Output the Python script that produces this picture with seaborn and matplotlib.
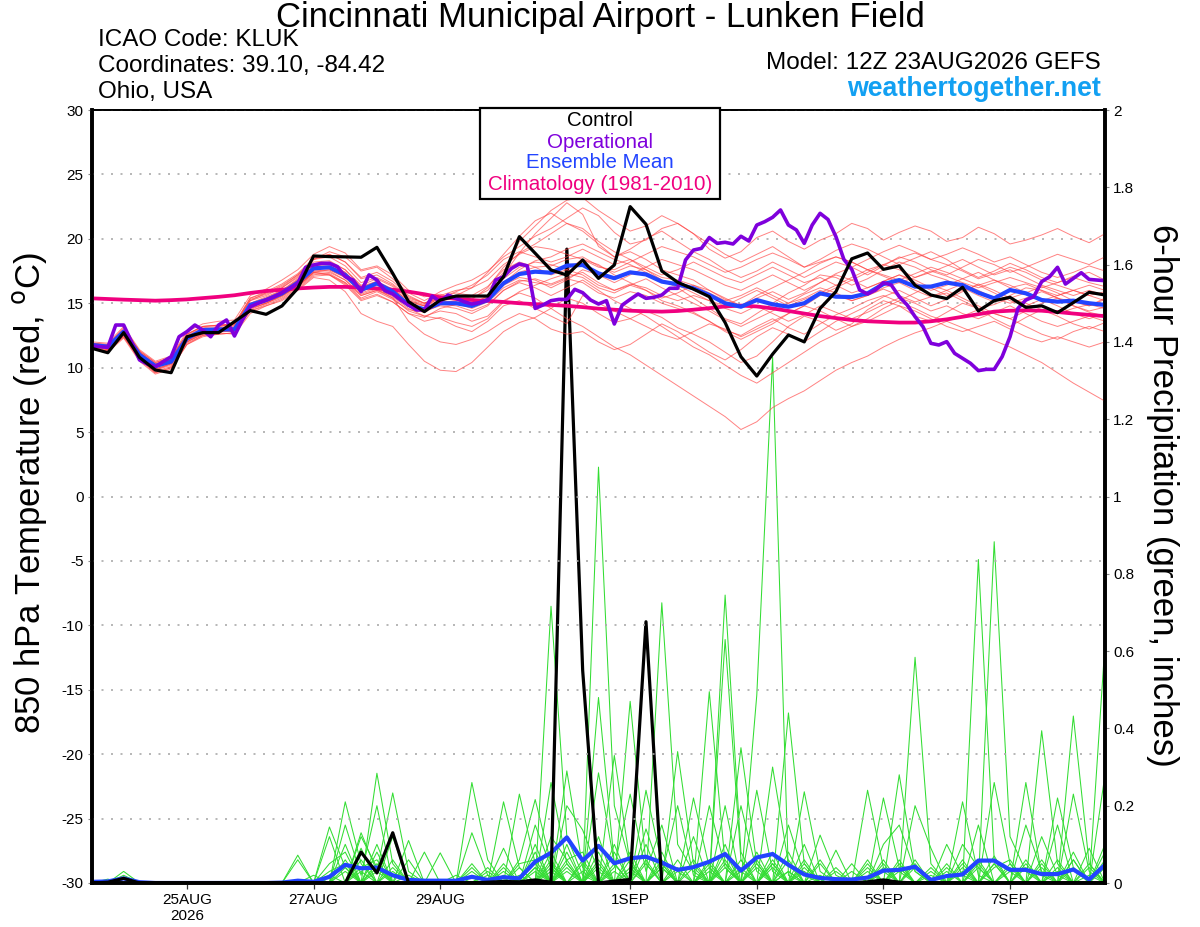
import numpy as np
import pandas as pd
import matplotlib
matplotlib.use("Agg")
import matplotlib.pyplot as plt
import seaborn as sns
from matplotlib.patches import Rectangle
from matplotlib.ticker import FuncFormatter

sns.set_theme(style="white")
plt.rcParams['font.family'] = ['Liberation Sans', 'DejaVu Sans']
plt.rcParams['axes.unicode_minus'] = False
plt.rcParams['text.color'] = 'black'
plt.rcParams['xtick.color'] = 'black'
plt.rcParams['ytick.color'] = 'black'

# ---------------- data ----------------
start = "2026-08-23 12:00"
times = pd.date_range(start, periods=65, freq="6h")       # ensemble / control (6-hourly)
times_op = pd.date_range(start, periods=129, freq="3h")   # operational (3-hourly)

tick_dates = ["2026-08-25", "2026-08-27", "2026-08-29", "2026-09-01",
              "2026-09-03", "2026-09-05", "2026-09-07"]
tick_labels = ["25AUG\n2026", "27AUG", "29AUG", "1SEP", "3SEP", "5SEP", "7SEP"]

control_temp = [11.5, 11.16, 12.72, 10.8, 9.82, 9.61, 12.4, 12.72, 12.72, 13.57,
                14.43, 14.14, 14.79, 16.16, 18.67, 18.62, 18.6, 18.57, 19.34, 17.32,
                15.12, 14.35, 15.25, 15.56, 15.56, 15.56, 17.06, 20.17, 18.88, 17.58,
                17.19, 18.36, 16.93, 17.97, 22.5, 21.13, 17.5, 16.63, 16.1, 15.51,
                13.5, 10.85, 9.35, 11.05, 12.54, 12.0, 14.6, 15.9, 18.45, 18.9,
                17.63, 17.9, 16.4, 15.64, 15.36, 16.24, 14.4, 15.2, 15.46, 14.68,
                14.8, 14.27, 15.05, 15.85, 15.64]

mean_temp = [11.76, 11.63, 12.8, 11.0, 10.13, 10.47, 12.28, 12.92, 12.97, 12.97,
             14.87, 15.25, 15.77, 16.6, 17.71, 17.79, 17.19, 16.03, 16.55, 15.9,
             14.87, 14.53, 15.0, 15.0, 14.79, 15.25, 16.55, 17.27, 17.45, 17.37,
             17.92, 17.97, 17.32, 16.94, 17.4, 17.24, 16.68, 16.47, 16.16, 15.64,
             15.0, 14.73, 15.25, 14.92, 14.73, 15.0, 15.77, 15.51, 15.48, 15.77,
             16.49, 16.8, 16.29, 16.29, 16.6, 16.41, 15.82, 15.38, 16.03, 15.77,
             15.25, 15.12, 15.2, 15.0, 14.87]

oper_temp = [11.68, 11.63, 11.58, 13.31, 13.31, 12.0, 10.6, 10.28, 10.07, 10.47,
             10.85, 12.4, 12.8, 13.31, 12.92, 12.4, 13.31, 13.7, 12.46, 13.7,
             14.73, 15.0, 15.25, 15.5, 15.82, 16.15, 16.55, 17.79, 17.97, 18.1,
             18.1, 17.84, 17.06, 16.8, 15.9, 17.2, 16.8, 15.98, 15.72, 15.25,
             14.86, 14.48, 14.48, 15.55, 15.12, 15.64, 15.38, 15.12, 14.94, 15.05,
             15.25, 16.8, 17.06, 17.7, 18.05, 17.9, 14.6, 14.87, 15.2, 15.3,
             15.3, 16.08, 15.82, 15.25, 14.94, 15.2, 13.39, 14.86, 15.3, 15.72,
             15.38, 15.46, 15.64, 16.16, 16.16, 18.36, 19.13, 19.26, 20.1, 19.65,
             19.73, 19.6, 20.2, 19.83, 21.07, 21.33, 21.67, 22.24, 21.07, 20.69,
             19.65, 21.07, 21.98, 21.5, 20.17, 18.41, 17.63, 16.03, 15.72, 16.03,
             16.6, 16.41, 15.51, 14.87, 13.96, 13.18, 11.89, 11.76, 12.02, 11.11,
             10.72, 10.34, 9.77, 9.87, 9.87, 10.85, 12.4, 14.6, 15.25, 15.51,
             16.68, 17.06, 17.79, 16.49, 16.93, 17.37, 16.85, 16.8, 16.75]

clim_temp = [15.38, 15.33, 15.28, 15.24, 15.2, 15.24, 15.3, 15.4, 15.5, 15.62,
             15.8, 15.95, 16.05, 16.15, 16.22, 16.27, 16.27, 16.22, 16.15, 16.05,
             15.9, 15.7, 15.46, 15.35, 15.25, 15.18, 15.1, 15.0, 14.93, 14.87,
             14.8, 14.7, 14.58, 14.5, 14.42, 14.38, 14.35, 14.4, 14.5, 14.62,
             14.75, 14.82, 14.75, 14.6, 14.4, 14.2, 14.0, 13.85, 13.7, 13.6,
             13.55, 13.5, 13.5, 13.6, 13.75, 13.95, 14.15, 14.35, 14.42, 14.45,
             14.42, 14.32, 14.2, 14.1, 14.0]

mean_precip = [0.003, 0.004, 0.012, 0.002, 0, 0, 0, 0, 0, 0,
               0, 0, 0.001, 0.006, 0.003, 0.016, 0.047, 0.038, 0.04, 0.02,
               0.008, 0.006, 0.006, 0.006, 0.016, 0.008, 0.015, 0.012, 0.055, 0.078,
               0.118, 0.058, 0.096, 0.051, 0.064, 0.068, 0.053, 0.034, 0.041, 0.055,
               0.075, 0.032, 0.066, 0.075, 0.047, 0.022, 0.013, 0.010, 0.009, 0.014,
               0.032, 0.034, 0.042, 0.008, 0.018, 0.022, 0.058, 0.058, 0.034, 0.034,
               0.023, 0.023, 0.035, 0.009, 0.047]

control_precip = [0, 0.002, 0.012, 0, 0, 0, 0, 0, 0, 0,
                  0, 0, 0, 0, 0, 0, 0, 0.08, 0.026, 0.13,
                  0, 0, 0, 0, 0, 0.002, 0.004, 0.003, 0.008, 0.002,
                  1.64, 0.55, 0, 0.005, 0.009, 0.676, 0, 0.002, 0.001, 0,
                  0, 0, 0, 0, 0, 0, 0, 0, 0, 0.003,
                  0.008, 0.002, 0, 0, 0, 0, 0, 0, 0, 0,
                  0, 0, 0, 0, 0]

# 20 perturbed members, 850 hPa temperature
temp_members = [
    [11.9,11.5,12.6,10.8,9.8,10.2,12.0,12.7,13.2,13.4,15.2,15.8,16.4,17.2,18.4,19.0,18.6,17.5,17.8,16.9,
     15.8,15.2,15.9,16.4,16.8,17.5,18.6,19.4,20.2,20.8,21.6,22.4,21.8,20.5,19.6,19.9,20.8,21.2,20.4,19.2,
     18.5,19.0,20.1,20.6,19.8,19.2,19.9,20.4,21.2,20.8,19.9,20.5,21.0,20.6,19.8,20.1,20.9,20.4,19.6,19.9,
     20.3,20.8,20.2,19.7,20.4],
    [11.6,11.2,12.3,10.5,9.5,9.9,11.8,12.5,12.7,12.6,14.2,14.8,15.2,16.0,17.0,16.8,15.9,14.2,13.6,13.2,
     11.8,10.5,9.8,9.7,10.4,11.6,12.8,13.5,13.9,14.6,15.4,15.0,14.2,13.5,13.8,14.4,13.9,13.1,12.6,12.0,
     11.2,10.4,10.9,12.0,13.2,14.0,13.6,12.9,13.4,14.5,15.2,14.8,14.0,13.6,14.3,15.0,14.6,13.8,13.2,13.9,
     14.5,14.0,13.4,13.0,13.5],
    [11.7,11.4,12.5,10.6,9.7,10.1,12.0,12.6,12.8,12.9,14.5,15.0,15.6,16.3,17.4,17.6,17.0,15.8,16.2,15.5,
     14.6,14.0,14.4,14.2,13.6,14.0,15.2,15.8,15.4,14.6,13.8,13.2,12.4,11.6,11.0,10.2,9.4,8.6,7.8,7.0,
     6.2,5.2,5.8,6.9,7.6,8.2,9.0,9.8,10.4,10.9,11.6,12.2,12.7,13.1,13.6,14.0,14.5,14.2,13.8,14.4,
     15.0,15.4,15.1,14.8,15.3],
    [11.8,11.6,12.9,11.2,10.2,10.4,12.2,12.8,12.9,13.1,14.8,15.1,15.6,16.4,17.4,17.3,16.6,15.4,15.9,15.3,
     14.5,14.3,14.9,14.8,14.4,14.9,16.0,16.7,16.9,16.5,17.0,17.4,16.6,16.0,16.4,16.0,15.2,14.8,14.3,13.6,
     12.9,12.5,13.2,13.8,13.1,12.6,13.4,14.1,14.6,15.2,15.6,15.1,14.6,14.0,13.6,13.1,12.6,12.1,11.6,11.0,
     10.4,9.6,8.8,8.1,7.4],
    [11.9,11.8,13.0,11.3,10.4,10.8,12.6,13.2,13.3,13.4,15.4,15.9,16.5,17.3,18.5,18.8,18.2,17.0,17.4,16.7,
     15.6,15.0,15.4,15.6,15.4,16.0,17.4,19.8,21.0,22.2,23.0,23.2,22.2,21.4,20.6,21.0,21.8,21.2,20.4,19.6,
     18.8,18.2,18.8,19.4,18.6,17.8,18.4,19.1,19.6,19.2,18.6,18.0,18.5,19.0,18.4,17.6,17.0,17.5,18.1,17.6,
     17.0,16.6,17.1,17.4,16.8],
    [11.5,11.3,12.4,10.7,9.6,10.0,11.9,12.5,12.6,12.7,14.4,14.9,15.4,16.2,17.2,17.4,16.8,15.7,16.1,15.4,
     13.6,12.6,12.0,11.8,12.2,12.8,13.6,14.2,13.8,13.0,12.6,12.8,12.0,11.4,11.8,12.6,13.4,12.8,12.0,11.2,
     10.6,11.4,12.4,13.1,12.6,12.0,12.8,13.6,14.2,14.8,15.5,16.0,15.4,14.8,15.3,15.9,16.5,16.0,15.4,15.8,
     16.3,15.8,15.2,14.8,15.4],
    [12.0,11.9,13.2,11.4,10.5,10.9,12.8,13.4,13.6,13.7,15.6,16.1,16.8,17.6,18.8,19.4,18.9,17.6,17.9,17.2,
     16.0,15.5,15.7,15.3,14.8,15.2,17.2,18.9,20.4,21.6,22.8,21.9,19.4,18.6,19.2,20.0,20.6,19.8,19.0,18.4,
     17.6,17.0,17.5,18.2,17.6,17.0,17.6,18.2,17.8,17.2,17.9,18.6,18.2,17.6,17.2,17.8,18.4,18.0,17.4,17.8,
     18.3,18.8,18.4,18.0,18.6],
    [11.6,11.4,12.6,10.9,9.9,10.3,12.1,12.8,12.9,12.8,14.6,15.0,15.5,16.3,17.3,17.2,16.4,15.2,15.6,15.1,
     14.2,13.9,14.6,14.9,15.3,16.2,17.8,18.9,19.6,20.4,21.2,20.8,19.8,19.0,18.4,17.6,16.8,16.2,15.4,14.6,
     13.8,13.4,14.2,15.0,15.8,16.4,17.2,17.0,16.4,16.9,17.6,18.2,17.8,17.2,16.8,16.2,15.6,15.1,15.6,16.2,
     16.0,15.4,14.8,14.3,14.0],
    [11.8,11.7,12.9,11.1,10.1,10.6,12.4,13.0,13.1,13.2,15.0,15.4,15.9,16.8,17.9,18.2,17.6,16.4,16.9,16.3,
     15.3,14.9,15.5,15.8,15.6,16.3,17.6,18.2,17.8,17.2,17.6,18.4,18.0,17.2,16.6,16.0,15.4,15.8,16.4,16.0,
     15.4,14.8,15.4,15.9,15.3,15.8,16.6,17.3,17.8,18.4,19.0,19.5,19.0,18.4,18.8,19.3,18.8,18.2,18.6,18.0,
     17.4,17.0,17.4,17.9,17.5],
    [11.7,11.5,12.7,10.9,10.0,10.4,12.2,12.8,12.9,13.0,14.7,15.1,15.6,16.4,17.5,17.6,17.0,15.9,16.4,15.8,
     14.8,14.4,14.8,14.6,14.2,14.8,16.0,16.6,16.2,15.6,16.2,16.8,16.0,15.2,14.6,14.0,13.2,12.4,11.6,11.0,
     10.2,9.4,8.8,9.6,10.4,11.2,12.0,12.6,13.2,13.8,14.6,15.2,15.8,16.4,16.0,15.4,14.8,14.2,13.8,13.2,
     12.6,12.2,12.8,13.2,12.8],
    [11.9,11.7,12.8,11.0,10.2,10.7,12.5,13.1,13.2,13.3,15.3,15.7,16.2,17.0,18.2,18.3,17.6,16.3,16.7,16.0,
     15.0,14.6,15.0,15.2,15.0,15.5,16.6,17.4,17.8,17.9,18.4,18.6,17.9,17.4,17.9,17.6,17.0,16.8,16.4,15.8,
     15.2,15.6,16.2,15.6,15.0,15.4,16.0,15.6,15.2,15.6,16.2,16.6,16.0,15.5,15.8,15.2,14.6,14.9,15.4,15.0,
     14.5,14.2,14.6,14.9,14.6],
    [11.6,11.4,12.5,10.8,9.8,10.3,12.1,12.7,12.8,12.8,14.6,15.0,15.6,16.4,17.6,17.8,17.2,16.0,16.6,16.1,
     15.2,14.8,15.4,15.6,16.2,17.4,18.8,20.2,21.4,22.0,21.2,20.6,19.6,18.6,19.0,18.4,17.6,17.2,16.8,16.0,
     15.3,14.8,15.6,16.2,16.8,17.4,18.1,18.6,18.2,17.6,18.0,18.5,18.9,18.4,18.0,17.5,16.9,17.3,17.8,17.4,
     16.8,16.4,16.0,15.6,15.9],
    [11.8,11.6,12.7,10.9,10.0,10.4,12.2,12.8,13.0,12.9,14.8,15.2,15.7,16.5,17.5,17.5,16.8,15.6,16.0,15.6,
     14.8,14.6,15.2,15.4,15.0,15.4,16.4,17.0,16.8,16.2,16.8,17.6,17.2,16.6,17.2,17.8,18.4,18.0,17.6,17.0,
     16.4,16.0,16.6,17.2,16.6,16.0,16.6,17.2,16.8,16.2,16.7,17.2,16.6,16.0,16.4,16.9,17.4,16.8,16.2,16.5,
     16.0,15.6,16.0,16.4,16.0],
    [11.7,11.6,12.8,11.1,10.2,10.6,12.4,12.9,13.0,13.1,14.9,15.4,16.0,16.9,18.0,18.1,17.4,16.1,16.6,16.0,
     15.0,14.6,15.1,15.0,14.6,15.1,16.2,16.8,16.6,16.4,16.9,16.6,15.8,15.4,15.9,15.6,15.0,14.6,14.2,13.6,
     12.8,12.2,12.8,13.4,14.2,14.8,15.6,16.2,16.8,17.4,18.0,17.6,17.0,17.4,17.9,18.4,17.8,17.2,17.6,17.0,
     16.4,16.0,15.6,16.0,15.6],
    [11.9,11.7,12.9,11.2,10.3,10.6,12.4,13.0,13.0,13.1,15.0,15.5,16.0,16.8,17.9,18.0,17.4,16.2,16.7,16.1,
     15.2,14.8,15.2,15.1,14.9,15.6,16.9,17.8,18.2,18.0,17.6,17.2,16.4,16.0,16.5,16.2,15.6,15.2,15.6,15.2,
     14.6,14.2,14.8,14.2,13.6,14.1,14.8,14.3,13.8,14.3,14.9,15.4,15.0,14.4,14.8,14.2,13.8,14.3,14.8,14.2,
     13.6,13.2,13.6,14.0,13.6],
    [11.8,11.5,12.6,10.8,9.9,10.3,12.0,12.6,12.8,12.9,14.7,15.2,15.6,16.3,17.4,17.2,16.5,15.3,15.7,15.1,
     14.2,13.6,13.9,13.5,13.2,13.8,15.1,15.9,16.4,16.9,17.3,17.0,16.2,15.8,16.4,16.9,16.2,15.6,15.0,14.4,
     13.7,13.2,13.8,14.4,15.0,15.7,16.2,15.8,15.2,15.6,16.1,15.6,15.1,15.5,16.0,16.5,16.0,15.4,15.0,15.4,
     15.9,15.4,14.8,14.4,14.7],
    [11.7,11.6,12.7,11.0,10.1,10.5,12.3,12.9,13.0,13.0,14.9,15.3,15.9,16.7,17.8,17.9,17.3,16.2,16.6,15.9,
     15.0,14.8,15.4,15.9,16.4,17.2,18.4,19.0,18.6,18.2,18.6,19.2,18.6,18.0,18.4,17.8,17.2,17.6,18.2,17.6,
     17.0,16.6,17.2,17.8,17.2,16.6,17.0,16.4,15.8,16.2,16.7,17.2,16.8,16.2,15.6,16.0,16.4,15.8,15.2,14.8,
     15.3,14.8,14.2,13.8,14.2],
    [11.8,11.7,12.9,11.2,10.3,10.8,12.6,13.2,13.3,13.3,15.2,15.6,16.2,17.1,18.4,18.6,17.9,16.6,17.0,16.4,
     15.4,15.0,15.5,15.4,15.0,15.4,16.6,17.6,18.3,18.6,19.2,19.6,19.0,18.4,18.0,17.4,16.8,16.4,15.8,15.2,
     14.8,15.4,16.0,15.4,14.8,15.3,15.8,16.4,17.0,17.6,17.1,16.6,17.0,17.5,17.1,16.6,16.2,16.6,17.0,16.6,
     16.2,16.6,17.0,16.6,16.3],
    [11.6,11.3,12.4,10.6,9.6,10.0,11.8,12.4,12.6,12.7,14.4,14.8,15.3,16.1,17.1,17.2,16.6,15.6,16.0,15.4,
     14.4,14.0,13.8,13.2,12.8,13.6,14.8,15.2,14.6,14.0,13.4,15.6,15.0,14.4,13.8,13.2,12.6,12.2,12.8,13.4,
     13.0,12.4,13.0,13.6,14.2,14.8,14.4,13.8,13.2,13.6,14.2,14.8,14.4,13.8,13.2,12.8,13.2,13.6,13.0,12.4,
     12.0,12.4,12.0,11.6,12.0],
    [11.9,11.8,13.1,11.3,10.4,10.8,12.6,13.2,13.3,13.4,15.4,15.8,16.3,17.2,18.4,18.8,18.2,16.9,17.2,16.5,
     15.5,15.0,15.6,16.0,16.2,16.8,18.0,18.8,19.4,19.2,18.8,18.4,17.8,17.6,18.2,18.8,19.4,19.0,18.6,18.0,
     17.4,17.8,18.4,18.9,18.4,17.8,18.2,18.6,18.2,17.6,17.2,16.8,17.3,17.8,17.4,16.9,16.4,16.8,16.4,15.8,
     15.2,15.6,16.0,15.6,15.2],
]

# 20 perturbed members, 6-hour precipitation: {time step index: inches}, other steps dry
precip_members = [
    {2: 0.03, 13: 0.072, 16: 0.21, 17: 0.05, 24: 0.04, 29: 0.716, 30: 0.12, 31: 0.02, 36: 0.04, 40: 0.2,
     44: 0.03, 49: 0.05, 52: 0.04, 57: 0.883, 58: 0.12, 59: 0.03, 64: 0.1},
    {2: 0.02, 15: 0.145, 16: 0.04, 18: 0.284, 19: 0.05, 26: 0.09, 28: 0.03, 32: 1.076, 33: 0.2, 34: 0.05,
     39: 0.03, 43: 0.05, 45: 0.1, 51: 0.06, 56: 0.15, 60: 0.394, 61: 0.05},
    {1: 0.01, 13: 0.06, 17: 0.13, 18: 0.03, 19: 0.233, 20: 0.03, 27: 0.06, 28: 0.216, 29: 0.05, 33: 0.33,
     34: 0.05, 40: 0.745, 41: 0.08, 47: 0.085, 50: 0.03, 55: 0.21, 56: 0.02, 62: 0.23, 63: 0.03},
    {2: 0.015, 16: 0.15, 17: 0.02, 18: 0.2, 20: 0.11, 24: 0.13, 25: 0.02, 30: 0.29, 31: 0.04, 36: 0.725,
     37: 0.1, 38: 0.03, 42: 0.24, 43: 0.03, 50: 0.22, 51: 0.04, 57: 0.26, 58: 0.05, 64: 0.62},
    {15: 0.12, 17: 0.09, 19: 0.12, 21: 0.08, 26: 0.21, 27: 0.04, 29: 0.26, 30: 0.05, 32: 0.48, 33: 0.05,
     39: 0.495, 40: 0.05, 44: 0.44, 45: 0.05, 52: 0.584, 53: 0.05, 59: 0.26, 60: 0.02},
    {16: 0.10, 18: 0.1, 22: 0.078, 24: 0.02, 28: 0.15, 29: 0.04, 34: 0.47, 35: 0.05, 40: 0.63, 41: 0.06,
     46: 0.124, 47: 0.02, 49: 0.24, 50: 0.04, 56: 0.837, 57: 0.06, 62: 0.432, 63: 0.05},
    {17: 0.12, 18: 0.04, 20: 0.06, 24: 0.26, 25: 0.06, 27: 0.23, 28: 0.05, 32: 0.285, 33: 0.05, 37: 0.34,
     38: 0.05, 42: 0.486, 43: 1.36, 44: 0.02, 51: 0.28, 52: 0.03, 60: 0.12, 61: 0.02},
    {15: 0.03, 16: 0.05, 19: 0.04, 23: 0.02, 26: 0.04, 30: 0.2, 31: 0.137, 32: 0.03, 35: 0.24, 36: 0.05,
     38: 0.22, 39: 0.04, 41: 0.35, 42: 0.05, 45: 0.236, 46: 0.03, 54: 0.1, 55: 0.02, 61: 0.22, 62: 0.04},
    {17: 0.04, 18: 0.06, 25: 0.03, 29: 0.08, 33: 0.04, 34: 0.23, 35: 0.03, 36: 0.15, 39: 0.2, 40: 0.04,
     43: 0.3, 44: 0.05, 50: 0.1, 51: 0.15, 52: 0.03, 57: 0.05, 59: 0.15, 60: 0.03, 64: 0.28},
    {16: 0.03, 20: 0.02, 27: 0.05, 28: 0.06, 30: 0.08, 32: 0.06, 35: 0.14, 36: 0.02, 37: 0.2, 38: 0.02,
     41: 0.2, 42: 0.03, 44: 0.15, 45: 0.02, 48: 0.05, 52: 0.2, 53: 0.09, 55: 0.1, 56: 0.04, 61: 0.15, 63: 0.09},
    {14: 0.02, 18: 0.05, 24: 0.05, 26: 0.03, 29: 0.12, 30: 0.06, 31: 0.08, 33: 0.1, 38: 0.12, 40: 0.08,
     42: 0.06, 46: 0.05, 49: 0.06, 54: 0.05, 57: 0.04, 58: 0.06, 62: 0.06},
    {15: 0.05, 16: 0.08, 19: 0.03, 25: 0.04, 28: 0.1, 30: 0.04, 32: 0.12, 34: 0.06, 36: 0.08, 39: 0.06,
     41: 0.04, 43: 0.08, 45: 0.06, 50: 0.05, 53: 0.03, 55: 0.05, 60: 0.05, 64: 0.05},
    {17: 0.06, 27: 0.02, 29: 0.05, 31: 0.05, 33: 0.08, 35: 0.05, 37: 0.06, 40: 0.1, 42: 0.04, 44: 0.08,
     47: 0.03, 51: 0.05, 54: 0.04, 56: 0.06, 59: 0.04, 61: 0.04, 63: 0.02},
    {16: 0.04, 18: 0.08, 26: 0.05, 28: 0.04, 30: 0.1, 32: 0.08, 35: 0.1, 38: 0.04, 40: 0.05, 43: 0.04,
     46: 0.06, 49: 0.03, 52: 0.06, 55: 0.04, 58: 0.03, 62: 0.08, 64: 0.06},
    {2: 0.01, 18: 0.03, 24: 0.03, 29: 0.03, 31: 0.03, 34: 0.04, 36: 0.05, 39: 0.05, 41: 0.06, 45: 0.04,
     50: 0.06, 53: 0.02, 57: 0.07, 60: 0.04, 63: 0.04},
    {19: 0.06, 27: 0.04, 29: 0.06, 32: 0.05, 34: 0.03, 37: 0.04, 42: 0.08, 44: 0.03, 48: 0.03, 51: 0.03,
     56: 0.05, 59: 0.06, 62: 0.04},
    {16: 0.06, 28: 0.08, 30: 0.05, 33: 0.05, 36: 0.04, 38: 0.06, 40: 0.04, 45: 0.03, 50: 0.04, 52: 0.05,
     55: 0.06, 58: 0.04, 61: 0.06, 64: 0.04},
    {17: 0.03, 26: 0.02, 30: 0.03, 32: 0.04, 35: 0.06, 37: 0.03, 41: 0.03, 43: 0.06, 46: 0.02, 49: 0.04,
     54: 0.03, 57: 0.05, 60: 0.06, 63: 0.05},
    {18: 0.04, 25: 0.02, 29: 0.04, 31: 0.06, 34: 0.08, 39: 0.04, 42: 0.05, 44: 0.06, 47: 0.04, 53: 0.04,
     56: 0.04, 59: 0.05, 62: 0.06},
    {15: 0.02, 28: 0.04, 30: 0.06, 33: 0.03, 36: 0.06, 40: 0.06, 43: 0.05, 45: 0.05, 51: 0.04, 55: 0.03,
     58: 0.05, 61: 0.03, 64: 0.08},
]

legend_labels = ["Control", "Operational", "Ensemble Mean", "Climatology (1981-2010)"]

# ---------------- styling constants ----------------
RED = "#ff4040"
GREEN = "#33dd33"
BLACK = "#000000"
PURPLE = "#7f00dc"
BLUE = "#2244ff"
PINK = "#f0007f"
WEB = "#12a0f2"

# ---------------- build long tables ----------------
rows_t = []
for k, m in enumerate(temp_members):
    n = min(len(m), len(times))
    for t, v in zip(times[:n], m[:n]):
        rows_t.append((k, t, v))
df_t = pd.DataFrame(rows_t, columns=["member", "time", "temp"])

rows_p = []
for k, d in enumerate(precip_members):
    for i, t in enumerate(times):
        rows_p.append((k, t, d.get(i, 0.0)))
df_p = pd.DataFrame(rows_p, columns=["member", "time", "precip"])

df_main = pd.DataFrame({"time": times, "control": control_temp, "mean": mean_temp,
                        "clim": clim_temp, "mean_p": mean_precip, "control_p": control_precip})
df_op = pd.DataFrame({"time": times_op, "oper": oper_temp})

# ---------------- figure ----------------
W, H = 1200, 927
fig = plt.figure(figsize=(W / 100, H / 100), dpi=100)
fig.patch.set_facecolor("white")
ax = fig.add_axes([92 / W, 1 - 883 / H, (1105 - 92) / W, (883 - 110) / H])
ax2 = ax.twinx()

# precipitation axis
sns.lineplot(data=df_p, x="time", y="precip", units="member", estimator=None,
             color=GREEN, lw=0.75, ax=ax2, legend=False)
sns.lineplot(data=df_main, x="time", y="mean_p", color=BLUE, lw=3.0, ax=ax2)
sns.lineplot(data=df_main, x="time", y="control_p", color=BLACK, lw=2.3, ax=ax2)

# temperature axis
sns.lineplot(data=df_t, x="time", y="temp", units="member", estimator=None,
             color=RED, lw=0.7, alpha=0.65, ax=ax, legend=False)
sns.lineplot(data=df_main, x="time", y="clim", color=PINK, lw=2.7, ax=ax)
sns.lineplot(data=df_main, x="time", y="mean", color=BLUE, lw=3.0, ax=ax)
sns.lineplot(data=df_op, x="time", y="oper", color=PURPLE, lw=2.6, ax=ax)
sns.lineplot(data=df_main, x="time", y="control", color=BLACK, lw=2.3, ax=ax)

ax.set_zorder(ax2.get_zorder() + 1)
ax.patch.set_visible(False)

ax.set_xlim(times[0], times[-1])
ax.set_ylim(-30, 30)
ax2.set_ylim(0, 2)
ax.set_yticks(range(-30, 31, 5))
ax2.set_yticks(np.arange(0, 2.01, 0.2))
ax2.yaxis.set_major_formatter(FuncFormatter(lambda v, p: f"{v:g}"))
ax.set_xticks(pd.to_datetime(tick_dates))
ax.set_xticklabels(tick_labels)

for a in (ax, ax2):
    a.set_xlabel("")
    a.set_ylabel("")

ax.yaxis.grid(True, linestyle=(0, (1.2, 4.5)), color="#aaaaaa", lw=1.2)
ax.xaxis.grid(False)
ax2.grid(False)

ax.tick_params(axis="y", direction="out", length=3, width=0.8, color="#888888",
               labelsize=11, labelcolor="black", pad=3, left=True)
ax2.tick_params(axis="y", direction="out", length=3, width=0.8, color="#888888",
                labelsize=11, labelcolor="black", pad=3, right=True)
ax.tick_params(axis="x", direction="out", length=4, width=0.9, color="#333333",
               labelsize=11, labelcolor="black", pad=3, bottom=True)

for a in (ax, ax2):
    for s in ("left", "right", "bottom"):
        a.spines[s].set_linewidth(2.6)
        a.spines[s].set_color("black")
    a.spines["top"].set_linewidth(1.3)
    a.spines["top"].set_color("black")

# ---------------- texts ----------------
fig.text(0.5, 1 - 18 / H, "Cincinnati Municipal Airport - Lunken Field",
         ha="center", va="center", fontsize=25, color="black")
fig.text(98 / W, 1 - 40 / H, "ICAO Code: KLUK", ha="left", va="center", fontsize=17.5, color="black")
fig.text(98 / W, 1 - 66 / H, "Coordinates: 39.10, -84.42", ha="left", va="center", fontsize=17.5,
         color="black")
fig.text(98 / W, 1 - 92 / H, "Ohio, USA", ha="left", va="center", fontsize=17.5, color="black")
fig.text(1101 / W, 1 - 63 / H, "Model: 12Z 23AUG2026 GEFS", ha="right", va="center", fontsize=17.5,
         color="black")
fig.text(1101 / W, 1 - 89 / H, "weathertogether.net", ha="right", va="center",
         fontsize=19.3, fontweight="bold", color=WEB)

fig.text(30 / W, 1 - 493 / H, "850 hPa Temperature (red, $^{\\mathrm{o}}$C)", rotation=90,
         ha="center", va="center", fontsize=25, color="black")
fig.text(1163 / W, 1 - 495 / H, "6-hour Precipitation (green, inches)", rotation=270,
         ha="center", va="center", fontsize=25, color="black")

# legend box
fig.add_artist(Rectangle((480 / W, 1 - 199 / H), 240 / W, 91 / H, transform=fig.transFigure,
                         facecolor="white", edgecolor="black", lw=1.6, zorder=10))
for lbl, col, yy in zip(legend_labels, [BLACK, PURPLE, BLUE, PINK], [121, 142, 163, 185]):
    fig.text(0.5, 1 - yy / H, lbl, ha="center", va="center", fontsize=14.8, color=col, zorder=11)

fig.savefig("out.png", dpi=100, facecolor="white")
